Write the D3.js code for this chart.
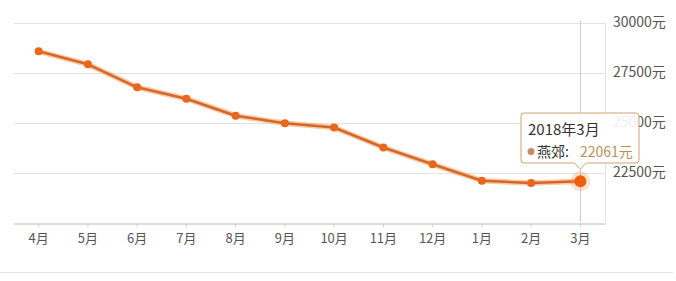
<!DOCTYPE html>
<html>
<head>
<meta charset="utf-8">
<script src="https://cdn.jsdelivr.net/npm/d3@7/dist/d3.min.js"></script>
<style>
  body { margin: 0; background: #fff; }
  text { font-family: "Noto Sans CJK SC", "Noto Sans", sans-serif; }
</style>
</head>
<body>
<main></main>
<script>
var months = ["4月","5月","6月","7月","8月","9月","10月","11月","12月","1月","2月","3月"];
var prices = [28560, 27910, 26760, 26190, 25340, 24960, 24750, 23750, 22910, 22090, 21970, 22061];
var yTicks = [22500, 25000, 27500, 30000];
var seriesName = "燕郊";
var hoverLabel = "2018年3月";

var w = 676, h = 281;
var margin = { top: 22.5, bottom: 58.5, left: 14, right: 71 };

var svg = d3.select("main")
            .append("svg")
            .attr("width", w)
            .attr("height", h);

var x = d3.scaleBand()
          .domain(months)
          .range([margin.left, w - margin.right]);
var y = d3.scaleLinear()
          .domain([20000, 30000])
          .range([h - margin.bottom, margin.top]);
var cx = function(d) { return x(d) + x.bandwidth() / 2; };

// grid lines
svg.append("g")
   .selectAll("line")
   .data(yTicks)
   .enter()
   .append("line")
   .attr("x1", margin.left)
   .attr("x2", w - margin.right)
   .attr("y1", function(d) { return Math.round(y(d)) + 0.5; })
   .attr("y2", function(d) { return Math.round(y(d)) + 0.5; })
   .attr("stroke", "#e3e3e3");

// right edge
svg.append("line")
   .attr("x1", w - margin.right + 0.5).attr("x2", w - margin.right + 0.5)
   .attr("y1", y(30000)).attr("y2", y(20000))
   .attr("stroke", "#e3e3e3");

// y labels on the right
svg.append("g")
   .selectAll("text")
   .data(yTicks)
   .enter()
   .append("text")
   .attr("x", 613)
   .attr("y", function(d) { return y(d); })
   .attr("dy", "0.35em")
   .attr("font-size", 14)
   .attr("fill", "#555")
   .text(function(d) { return d + "元"; });

// x axis
var xAxis = svg.append("g")
   .attr("transform", "translate(0," + (Math.round(y(20000)) + 0.5) + ")")
   .call(d3.axisBottom(x).tickSize(4).tickSizeOuter(0).tickPadding(6));
xAxis.select(".domain").attr("stroke", "#d0d0d0").attr("stroke-width", 1.5);
xAxis.selectAll(".tick line").attr("stroke", "#d0d0d0");
xAxis.selectAll(".tick text")
     .attr("font-size", 13)
     .attr("fill", "#555")
     .style("font-family", '"Noto Sans CJK SC", sans-serif');

// crosshair on hovered point
var last = months.length - 1;
svg.append("line")
   .attr("x1", Math.round(cx(months[last])) + 0.5).attr("x2", Math.round(cx(months[last])) + 0.5)
   .attr("y1", y(30000) - 2).attr("y2", y(20000))
   .attr("stroke", "#cfcfcf");

// line
var line = d3.line()
             .x(function(d, i) { return cx(months[i]); })
             .y(function(d) { return y(d); });

svg.append("path")
   .datum(prices)
   .attr("d", line)
   .attr("fill", "none")
   .attr("stroke", "#f7a35c")
   .attr("stroke-opacity", 0.55)
   .attr("stroke-width", 5.5)
   .attr("stroke-linejoin", "round");
svg.append("path")
   .datum(prices)
   .attr("d", line)
   .attr("fill", "none")
   .attr("stroke", "#d4672a")
   .attr("stroke-width", 2.5)
   .attr("stroke-linejoin", "round");

svg.append("g")
   .selectAll("circle")
   .data(prices.slice(0, last))
   .enter()
   .append("circle")
   .attr("cx", function(d, i) { return cx(months[i]); })
   .attr("cy", function(d) { return y(d); })
   .attr("r", 4)
   .attr("fill", "#e9661d");

// hover marker
svg.append("circle")
   .attr("cx", cx(months[last])).attr("cy", y(prices[last]))
   .attr("r", 10).attr("fill", "#f08a3c").attr("fill-opacity", 0.25);
svg.append("circle")
   .attr("cx", cx(months[last])).attr("cy", y(prices[last]))
   .attr("r", 6).attr("fill", "#ec5f0c");

// tooltip
var tx = 521, ty = 113, tw = 118, th = 50, px = cx(months[last]);
var tip = svg.append("g");
tip.append("path")
   .attr("d", "M" + (tx + 3) + "," + ty +
              "H" + (tx + tw - 3) + "Q" + (tx + tw) + "," + ty + " " + (tx + tw) + "," + (ty + 3) +
              "V" + (ty + th - 3) + "Q" + (tx + tw) + "," + (ty + th) + " " + (tx + tw - 3) + "," + (ty + th) +
              "H" + (px + 6) + "L" + px + "," + (ty + th + 6) + "L" + (px - 6) + "," + (ty + th) +
              "H" + (tx + 3) + "Q" + tx + "," + (ty + th) + " " + tx + "," + (ty + th - 3) +
              "V" + (ty + 3) + "Q" + tx + "," + ty + " " + (tx + 3) + "," + ty + "Z")
   .attr("fill", "#fff")
   .attr("fill-opacity", 0.9)
   .attr("stroke", "#d5a16e")
   .attr("stroke-width", 1);
tip.append("text")
   .attr("x", 528).attr("y", 134.5)
   .attr("font-size", 15).attr("fill", "#333")
   .text(hoverLabel);
tip.append("circle")
   .attr("cx", 531).attr("cy", 151.5).attr("r", 3.5)
   .attr("fill", "#c98a62");
tip.append("text")
   .attr("x", 537).attr("y", 156.5)
   .attr("font-size", 14).attr("fill", "#333")
   .text(seriesName + ":");
tip.append("text")
   .attr("x", 580).attr("y", 156.5)
   .attr("font-size", 14).attr("fill", "#b8925a")
   .text(prices[last] + "元");

// bottom separator
svg.append("line")
   .attr("x1", 0).attr("x2", 673)
   .attr("y1", 272.5).attr("y2", 272.5)
   .attr("stroke", "#e6e6e6");
</script>
</body>
</html>
